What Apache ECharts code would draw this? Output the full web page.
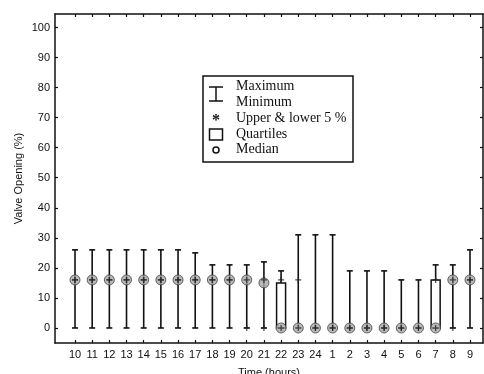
<!DOCTYPE html>
<html><head><meta charset="utf-8">
<script src="https://cdn.jsdelivr.net/npm/echarts@6/dist/echarts.min.js"></script>
<style>html,body{margin:0;padding:0;background:#fff}#c{width:484px;height:374px}</style>
</head><body><div id="c"></div>
<script>
const hours = ['10','11','12','13','14','15','16','17','18','19','20','21','22','23','24','1','2','3','4','5','6','7','8','9'];
const maxV   = [26,26,26,26,26,26,26,25,21,21,21,22,19,31,31,31,19,19,19,16,16,21,21,26];
const minV   = [0,0,0,0,0,0,0,0,0,0,0,0,0,0,0,0,0,0,0,0,0,0,0,0];
const upper5 = [16,16,16,16,16,16,16,16,16,16,16,16,16,16,0,0,0,0,0,0,0,16,16,16];
const lower5 = [16,16,16,16,16,16,16,16,16,16,0,0,0,0,0,0,0,0,0,0,0,0,0,16];
const q3     = [16,16,16,16,16,16,16,16,16,16,16,16,15,0,0,0,0,0,0,0,0,16,16,16];
const q1     = [16,16,16,16,16,16,16,16,16,16,16,16,0,0,0,0,0,0,0,0,0,0,16,16];
const median = [16,16,16,16,16,16,16,16,16,16,16,15,0,0,0,0,0,0,0,0,0,0,16,16];
const yTicks = [0,10,20,30,40,50,60,70,80,90,100];
const legendLabels = ['Maximum','Minimum','Upper & lower 5 %','Quartiles','Median'];

const idx = hours.map((h,i)=>i);
const INK = '#111';
const sans = 'Liberation Sans, Arial, sans-serif';
const serif = 'Liberation Serif, Times New Roman, serif';

const whiskerData = idx.map(i=>[i, minV[i], maxV[i]]);
const boxData = idx.map(i=>[i, q1[i], q3[i]]);
const medData = idx.map(i=>[i, median[i]]);
const pctData = [];
idx.forEach(i=>{ pctData.push([i, upper5[i]]); pctData.push([i, lower5[i]]); });

const crossPath = 'path://M4,0 L6,0 L6,4 L10,4 L10,6 L6,6 L6,10 L4,10 L4,6 L0,6 L0,4 L4,4 Z';

const xCommon = {
  type:'value', min:-1.1646, max:23.757,
  splitLine:{show:false},
  axisLine:{show:true, onZero:false, lineStyle:{color:INK, width:1.5}},
  axisTick:{show:true, inside:true, length:3, customValues:idx, lineStyle:{color:INK, width:1.2}},
};
const yCommon = {
  type:'value', min:-5, max:104.5,
  splitLine:{show:false},
  axisLine:{show:true, onZero:false, lineStyle:{color:INK, width:1.5}},
  axisTick:{show:true, inside:true, length:3, customValues:yTicks, lineStyle:{color:INK, width:1.2}},
};

const legendY = [86.5, 102.5, 118, 134, 149.5];
const legendText = legendLabels.map((t,i)=>({
  type:'text', x:236, y:legendY[i],
  style:{text:t, font:'14px '+serif, fill:INK, textVerticalAlign:'middle'}, z:11
}));

const chart = echarts.init(document.getElementById('c'), null, {renderer:'canvas'});
chart.setOption({
  animation:false,
  backgroundColor:'#fff',
  grid:{left:55, right:1, top:14, bottom:31, containLabel:false, outerBoundsMode:'none'},
  xAxis:[
    Object.assign({}, xCommon, {
      position:'bottom',
      name:'Time (hours)', nameLocation:'middle', nameGap:24, nameMoveOverlap:false,
      nameTextStyle:{fontFamily:sans, fontSize:11, color:INK},
      axisLabel:{show:true, customValues:idx, margin:6, fontFamily:sans, fontSize:11, color:INK,
        formatter:v=>hours[Math.round(v)]}
    }),
    Object.assign({}, xCommon, {position:'top', axisLabel:{show:false}})
  ],
  yAxis:[
    Object.assign({}, yCommon, {
      position:'left',
      name:'Valve Opening (%)', nameLocation:'middle', nameGap:31, nameMoveOverlap:false,
      nameTextStyle:{fontFamily:sans, fontSize:11, color:INK},
      axisLabel:{show:true, customValues:yTicks, margin:5, fontFamily:sans, fontSize:11, color:INK}
    }),
    Object.assign({}, yCommon, {position:'right', axisLabel:{show:false}})
  ],
  series:[
    {
      type:'custom', name:'range', data:whiskerData, z:2,
      renderItem:(params, api)=>{
        const x = api.value(0);
        const lo = api.coord([x, api.value(1)]);
        const hi = api.coord([x, api.value(2)]);
        const w = 3;
        const st = {stroke:INK, lineWidth:1.6};
        return {type:'group', children:[
          {type:'line', shape:{x1:lo[0], y1:lo[1], x2:hi[0], y2:hi[1]}, style:st},
          {type:'line', shape:{x1:lo[0]-w, y1:lo[1], x2:lo[0]+w, y2:lo[1]}, style:st},
          {type:'line', shape:{x1:hi[0]-w, y1:hi[1], x2:hi[0]+w, y2:hi[1]}, style:st}
        ]};
      }
    },
    {
      type:'custom', name:'quartiles', data:boxData, z:3,
      renderItem:(params, api)=>{
        const x = api.value(0);
        const a = api.coord([x, api.value(1)]);
        const b = api.coord([x, api.value(2)]);
        if (Math.abs(a[1]-b[1]) < 1) return {type:'group', children:[]};
        const hw = 4.5;
        return {type:'rect', shape:{x:a[0]-hw, y:Math.min(a[1],b[1]), width:hw*2, height:Math.abs(a[1]-b[1])},
          style:{fill:'#fff', stroke:INK, lineWidth:1.5}};
      }
    },
    {
      type:'scatter', name:'median', data:medData, z:4,
      symbol:'circle', symbolSize:10,
      itemStyle:{color:'#a8a8a8', borderColor:'#444', borderWidth:1}
    },
    {
      type:'scatter', name:'5%', data:pctData, z:5,
      symbol:crossPath, symbolSize:6,
      itemStyle:{color:'#222'}
    }
  ],
  graphic:[
    {type:'rect', shape:{x:203, y:76, width:150, height:86}, style:{fill:'#fff', stroke:INK, lineWidth:1.5}, z:10},
    {type:'line', shape:{x1:216, y1:87, x2:216, y2:101}, style:{stroke:INK, lineWidth:1.5}, z:11},
    {type:'line', shape:{x1:209, y1:87, x2:223, y2:87}, style:{stroke:INK, lineWidth:1.5}, z:11},
    {type:'line', shape:{x1:209, y1:101, x2:223, y2:101}, style:{stroke:INK, lineWidth:1.5}, z:11},
    {type:'text', x:216, y:121, style:{text:'*', font:'bold 16px '+serif, fill:INK, textAlign:'center', textVerticalAlign:'middle'}, z:11},
    {type:'rect', shape:{x:209.5, y:129, width:13, height:11}, style:{fill:'none', stroke:INK, lineWidth:1.5}, z:11},
    {type:'circle', shape:{cx:216, cy:150, r:3}, style:{fill:'none', stroke:INK, lineWidth:1.5}, z:11}
  ].concat(legendText)
});
</script></body></html>
